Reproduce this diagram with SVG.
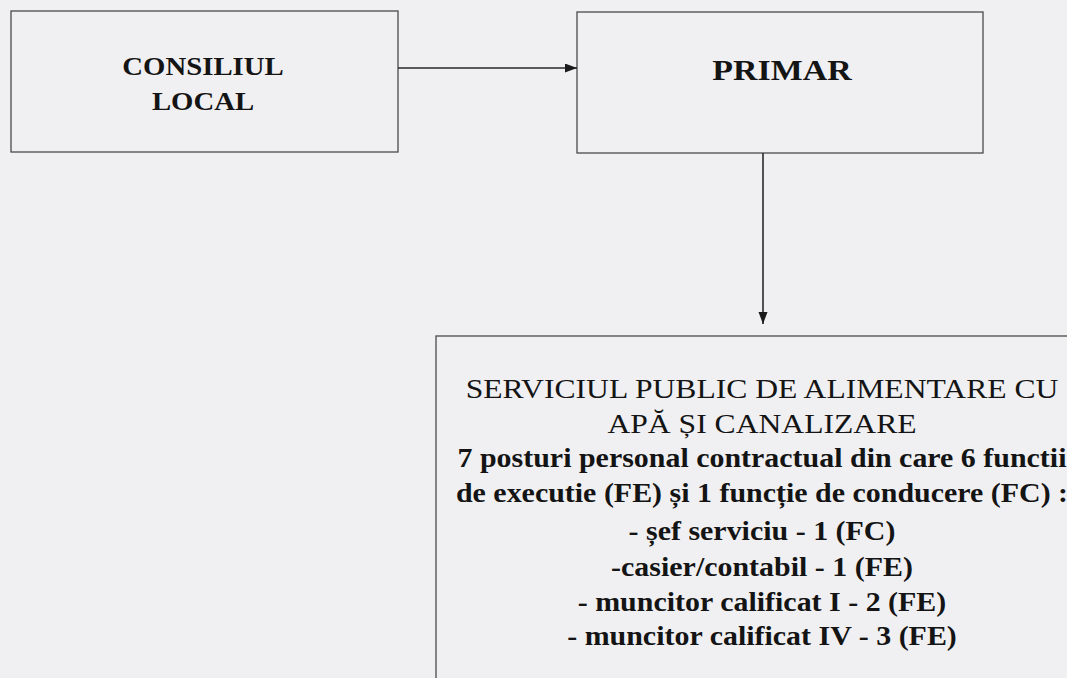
<svg xmlns="http://www.w3.org/2000/svg" width="1067" height="678" viewBox="0 0 1067 678">
  <defs>
    <marker id="arrow" markerUnits="userSpaceOnUse" markerWidth="14" markerHeight="10" refX="12" refY="4.5" orient="auto">
      <path d="M0,0 L12,4.5 L0,9 z" fill="#1a1a1a"/>
    </marker>
    <style>
      .box { fill: none; stroke: #4a4a4a; stroke-width: 1.3; }
      .conn { stroke: #2a2a2a; stroke-width: 1.6; fill: none; }
      .t { font-family: "Liberation Serif", "Times New Roman", serif; fill: #141414; text-anchor: middle; }
      .b { font-weight: bold; }
    </style>
  </defs>
  <rect x="0" y="0" width="1067" height="678" fill="#f0f0f2"/>

  <g id="node-consiliul-local">
    <rect class="box" x="11" y="11" width="387" height="141"/>
    <g transform="translate(203,0) scale(1.15,1)">
      <text class="t b" x="0" y="75" font-size="25">CONSILIUL</text>
      <text class="t b" x="0" y="110" font-size="25">LOCAL</text>
    </g>
  </g>

  <g id="node-primar">
    <rect class="box" x="577" y="12" width="406" height="141"/>
    <g transform="translate(782,0) scale(1.13,1)">
      <text class="t b" x="0" y="80" font-size="30">PRIMAR</text>
    </g>
  </g>

  <g id="node-serviciu">
    <rect class="box" x="436" y="336" width="700" height="400"/>
    <g transform="translate(762,0) scale(1.15,1)">
      <text class="t" x="0" y="398" font-size="27.5">SERVICIUL PUBLIC DE ALIMENTARE CU</text>
      <text class="t" x="0" y="433" font-size="27.5">APĂ ȘI CANALIZARE</text>
    </g>
    <g transform="translate(762,0) scale(1.13,1)">
      <text class="t b" x="0" y="467" font-size="26.5">7 posturi personal contractual din care 6 functii</text>
      <text class="t b" x="0" y="502" font-size="26.5">de executie (FE) și 1 funcție de conducere (FC) :</text>
      <text class="t b" x="0" y="540" font-size="26.5">- șef serviciu - 1 (FC)</text>
      <text class="t b" x="0" y="576" font-size="26.5">-casier/contabil - 1 (FE)</text>
      <text class="t b" x="0" y="611" font-size="26.5">- muncitor calificat I - 2 (FE)</text>
      <text class="t b" x="0" y="645" font-size="26.5">- muncitor calificat IV - 3 (FE)</text>
    </g>
  </g>

  <g id="connectors">
    <line class="conn" x1="398" y1="68" x2="577" y2="68" marker-end="url(#arrow)"/>
    <line class="conn" x1="763" y1="153" x2="763" y2="324" marker-end="url(#arrow)"/>
  </g>
</svg>
